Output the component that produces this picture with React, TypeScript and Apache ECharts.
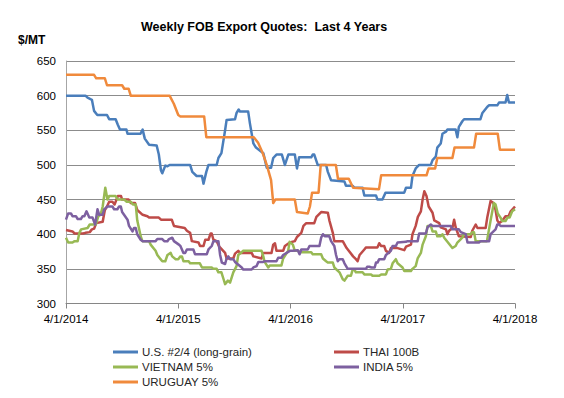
import React, { useEffect, useRef } from "react";
import * as echarts from "echarts";

const titleText = "Weekly FOB Export Quotes:  Last 4 Years";
const unitLabel = "$/MT";
const xTickLabels = ["4/1/2014", "4/1/2015", "4/1/2016", "4/1/2017", "4/1/2018"];
const seriesNames = ["U.S. #2/4 (long-grain)", "THAI 100B", "VIETNAM 5%", "INDIA 5%", "URUGUAY 5%"];
const seriesColors = ["#4A7EBB", "#BE4B48", "#98B954", "#7D60A0", "#F08A3C"];

// [week since 4/1/2014, $/MT]
const usQuotes: [number, number][] = [
  [0, 600], [9, 600], [10, 597], [12, 594], [13, 578], [14.5, 572], [19, 572], [20, 566], [23, 566], [24, 558],
  [25, 551], [28, 551], [28.5, 545], [34.5, 545], [35.5, 551], [36.5, 538], [38.5, 529], [42, 528], [43, 515],
  [44, 492], [44.6, 488], [46, 499], [47, 498], [48, 500], [57.5, 500], [58.5, 490], [60.5, 484], [63, 484],
  [63.7, 473], [65, 490], [66, 500], [69.8, 500], [70.6, 510], [72, 517], [73.7, 550], [74.4, 565], [78.3, 566],
  [79, 575], [80, 580], [80.6, 577], [84.4, 577], [85.2, 560], [86.8, 531], [88, 525], [91.4, 517], [93, 496],
  [95, 496], [96, 510], [97.5, 515], [100, 515], [101.4, 500], [103, 515], [106, 515], [107, 495], [108, 511],
  [113.6, 511], [114.3, 515], [115, 515], [116.6, 500], [120.5, 500], [121.3, 490], [122.8, 478], [129, 476],
  [129.7, 470], [132.8, 470], [133.6, 467], [137.4, 467], [138.2, 456], [143.6, 456], [144.3, 450], [146.6, 450],
  [148, 460], [156.7, 460], [157.5, 467], [159.8, 467], [160.5, 484], [162, 495], [163.6, 500], [169, 500],
  [169.8, 507], [171.3, 512], [172, 525], [173.6, 531], [174.4, 545], [176, 548], [176.7, 551], [180.5, 551],
  [181.3, 540], [182, 555], [183.6, 563], [184.4, 566], [192, 566], [192.9, 575], [195.2, 584], [196, 586],
  [199.8, 586], [200.6, 590], [203.6, 590], [204.4, 601], [205.2, 590], [208, 590],
];

const thaiQuotes: [number, number][] = [
  [0, 406], [3, 404], [4, 401], [8, 401], [9, 402], [11, 403], [12, 407], [13, 408], [14, 416], [17, 418],
  [18, 435], [19, 440], [20, 447], [21.5, 447], [22.5, 443], [24, 455], [25.5, 455], [26, 450], [29, 450],
  [30, 445], [32, 445], [33, 435], [35.5, 428], [37.7, 426], [38.5, 424], [43, 424], [44, 421], [49, 421],
  [50, 412], [55, 409], [56, 405], [57.5, 402], [58.3, 390], [61.4, 388], [62.1, 383], [63.7, 383], [64.5, 392],
  [66, 392], [67, 401], [67.5, 401], [68.3, 392], [69.8, 390], [71, 382], [73.7, 373], [74.4, 365], [77.5, 365],
  [78.3, 372], [79.8, 376], [80.6, 373], [86, 373], [86.8, 368], [90.6, 365], [91.4, 373], [95.2, 373], [96, 385],
  [96.8, 387], [97.5, 376], [100.6, 376], [101.4, 383], [103.7, 388], [106, 390], [107, 396], [109, 402],
  [110, 412], [111.3, 416], [115, 416], [116, 425], [118.2, 432], [121.3, 431], [122, 420], [123.6, 402],
  [124.3, 390], [128.2, 390], [130, 380], [133, 368], [134.3, 364], [135.1, 361], [136, 370], [138.2, 378],
  [139, 381], [144.3, 381], [145.1, 387], [146, 383], [147.4, 383], [148.2, 376], [149.7, 373], [150.5, 380],
  [153.6, 380], [156.7, 377], [157.5, 382], [159.8, 385], [160.5, 400], [162, 412], [163, 425], [164.4, 433],
  [165.2, 450], [166, 462], [167, 455], [168, 440], [169.8, 431], [170.6, 420], [172.9, 416], [173.6, 410],
  [176, 407], [176.7, 400], [177.5, 405], [179, 409], [179.8, 421], [180.5, 410], [182, 397], [187.5, 396],
  [188.2, 405], [189.8, 414], [190.6, 409], [194.4, 409], [195.2, 425], [196.7, 448], [198, 445], [199, 435],
  [199.8, 420], [200.6, 416], [202, 419], [203.6, 426], [205, 426], [206, 433], [208, 440],
];

const vietnamQuotes: [number, number][] = [
  [0, 395], [1, 388], [3, 388], [4, 390], [5.4, 390], [6.2, 402], [7, 407], [10, 409], [11, 414], [13.8, 414],
  [15, 426], [16, 428], [17, 440], [18.2, 467], [19.2, 450], [20, 455], [23, 455], [24, 450], [27, 450], [28, 447],
  [30, 447], [31, 443], [32.3, 443], [33, 420], [34.6, 397], [35.4, 390], [38.5, 390], [39.2, 385], [41.5, 376],
  [42.3, 370], [43.8, 364], [44.6, 361], [46, 361], [47, 370], [48.5, 373], [49.2, 368], [50.8, 364], [52, 364],
  [53, 368], [53.7, 368], [54.4, 361], [56.8, 361], [57.5, 358], [62, 358], [63, 352], [67.5, 352], [68.3, 350],
  [69.8, 350], [70.6, 345], [72, 345], [73, 335], [73.7, 328], [75, 333], [76, 330], [77.5, 345], [79, 354],
  [79.8, 370], [81.4, 374], [82, 376], [90.6, 376], [91.4, 368], [92, 360], [93.7, 352], [94.4, 355], [99.8, 355],
  [100.6, 365], [102.9, 376], [103.6, 389], [105.1, 385], [106, 376], [107.4, 376], [108.2, 374], [113.6, 374],
  [114.3, 371], [118.2, 371], [119, 365], [120.5, 361], [121.3, 359], [123.6, 359], [124.3, 352], [126.7, 345],
  [128.2, 335], [129, 333], [130.5, 340], [132, 340], [132.8, 349], [133.6, 349], [134.3, 345], [137.4, 345],
  [138.2, 342], [141.3, 342], [142, 340], [145.1, 340], [146, 342], [148.2, 342], [149, 349], [150.5, 350],
  [151.3, 358], [152.8, 364], [153.6, 358], [155.9, 352], [156.7, 347], [159.8, 347], [160.5, 350], [162, 354],
  [162.9, 365], [164.4, 373], [165.2, 385], [166.7, 397], [167.5, 412], [169, 412], [169.8, 404], [171.3, 404],
  [172, 397], [173.6, 397], [174.4, 400], [175.2, 395], [179, 380], [180.5, 383], [181.3, 388], [183.6, 395],
  [184.4, 400], [187.5, 400], [188.2, 403], [189, 403], [189.8, 390], [195, 390], [196.7, 420], [198.2, 445],
  [199, 443], [200, 430], [201.3, 424], [202.1, 419], [203.6, 419], [204.5, 424], [205.5, 424], [206.7, 433],
  [208, 436],
];

const indiaQuotes: [number, number][] = [
  [0, 421], [1, 430], [2.3, 430], [3, 426], [4.6, 426], [5.4, 422], [6.9, 422], [7.7, 426], [8.5, 426],
  [9.5, 433], [10.8, 424], [12.3, 424], [13.5, 414], [14.6, 436], [15.4, 428], [16.9, 428], [17.7, 436],
  [18.5, 438], [19.2, 440], [21.5, 440], [22.3, 436], [23.8, 436], [24.6, 440], [25.4, 440], [26, 432],
  [28.5, 421], [29.2, 412], [30.8, 404], [31.5, 409], [32.3, 409], [33, 400], [34.6, 392], [35.4, 390],
  [41.5, 390], [42.3, 393], [44.6, 393], [45.5, 390], [47, 390], [47.7, 393], [49.2, 395], [50, 390],
  [52.3, 385], [53, 383], [54.4, 373], [55.2, 373], [56, 378], [59, 378], [59.8, 371], [65.2, 371], [66, 378],
  [67.5, 383], [68.3, 390], [70.6, 390], [71.4, 370], [72.2, 359], [73.7, 357], [74.4, 365], [75.2, 368],
  [76, 364], [77.5, 364], [78.3, 360], [81.4, 352], [82.1, 349], [86, 349], [86.8, 352], [88.3, 354],
  [89.1, 360], [91.4, 360], [92.1, 361], [97.5, 361], [98.3, 366], [99.8, 366], [100.6, 370], [103.7, 376],
  [105.1, 376], [107.4, 377], [108.2, 371], [109, 378], [112, 378], [112.8, 383], [117.4, 383], [118.2, 395],
  [119, 400], [120, 397], [122, 397], [122.8, 390], [124.3, 383], [125.1, 370], [125.9, 361], [126.6, 364],
  [128.2, 364], [129, 358], [130.5, 350], [139, 350], [139.5, 353], [140.5, 353], [141.5, 352], [143, 352],
  [143.6, 359], [144.3, 359], [145.1, 364], [147.4, 364], [148.2, 370], [150.5, 376], [151.3, 383],
  [152.8, 383], [153.6, 388], [157.5, 389], [158.2, 390], [162.9, 390], [163.6, 401], [166.7, 401],
  [167.5, 410], [169, 414], [169.8, 412], [178.2, 412], [179, 407], [182, 407], [182.9, 403], [185.2, 400],
  [186, 388], [191.3, 388], [192.1, 390], [196, 390], [196.7, 400], [199, 407], [199.8, 414], [200.6, 414],
  [201.3, 412], [208, 412],
];

const uruguayQuotes: [number, number][] = [
  [0, 630], [13, 630], [14, 625], [18, 625], [19, 615], [26, 615], [27, 610], [29, 610], [30, 600], [48, 600],
  [50, 588], [52, 572], [53, 570], [64, 570], [65, 540], [87, 540], [89, 532], [91, 518], [93, 500], [95, 478],
  [96, 445], [97, 450], [106, 450], [107, 432], [112, 430], [113, 440], [114, 460], [117, 460], [118, 500],
  [125, 500], [126, 480], [131, 480], [133, 467], [145, 465], [146, 485], [167, 485], [168, 495], [171, 495],
  [172, 510], [179, 510], [180, 525], [189, 525], [190, 545], [200, 545], [201, 522], [208, 522],
];

const allSeries = [usQuotes, thaiQuotes, vietnamQuotes, indiaQuotes, uruguayQuotes];

const FONT = "'Liberation Sans', Arial, sans-serif";

export default function App() {
  const ref = useRef<HTMLDivElement>(null);
  useEffect(() => {
    document.body.style.margin = "0";
    if (!ref.current) return;
    const chart = echarts.init(ref.current, null, { renderer: "svg" });
    const legendBase = {
      orient: "vertical" as const,
      top: 341,
      itemWidth: 25,
      itemHeight: 3,
      itemGap: 3,
      icon: "rect",
      textStyle: { fontFamily: FONT, fontSize: 11.5, color: "#262626", padding: [0, 0, 0, -1] },
    };
    chart.setOption({
      animation: false,
      backgroundColor: "#ffffff",
      title: {
        text: titleText,
        left: 136,
        top: 15,
        textStyle: { fontFamily: FONT, fontSize: 12.5, fontWeight: "bold", color: "#000" },
      },
      graphic: [
        {
          type: "text",
          left: 18,
          top: 34,
          style: { text: unitLabel, fontFamily: FONT, fontSize: 12, fontWeight: "bold", fill: "#000" },
        },
      ],
      legend: [
        { ...legendBase, left: 108, data: [seriesNames[0], seriesNames[2], seriesNames[4]] },
        { ...legendBase, left: 329, data: [seriesNames[1], seriesNames[3]] },
      ],
      grid: { left: 66, right: 49, top: 61, bottom: 94.5 },
      xAxis: {
        type: "value",
        min: 0,
        max: 208,
        interval: 52,
        axisLine: { show: true, lineStyle: { color: "#868686", width: 1 } },
        axisTick: { show: true, length: 5, lineStyle: { color: "#868686" } },
        splitLine: { show: false },
        axisLabel: {
          margin: 9,
          fontFamily: FONT,
          fontSize: 11.5,
          color: "#000",
          formatter: (v: number) => xTickLabels[Math.round(v / 52)] ?? "",
        },
      },
      yAxis: {
        type: "value",
        min: 300,
        max: 650,
        interval: 50,
        axisLine: { show: true, lineStyle: { color: "#a6a6a6", width: 1 } },
        axisTick: { show: false },
        splitLine: { show: true, lineStyle: { color: "#8c8c8c", width: 1 } },
        axisLabel: { margin: 10, fontFamily: FONT, fontSize: 11.5, color: "#000" },
      },
      series: allSeries.map((data, i) => ({
        name: seriesNames[i],
        type: "line",
        data,
        showSymbol: false,
        symbol: "none",
        color: seriesColors[i],
        lineStyle: { width: 2.5, color: seriesColors[i], join: "round" },
      })),
    });
    return () => chart.dispose();
  }, []);
  return (
    <div
      style={{
        width: 564,
        height: 398,
        boxSizing: "border-box",
        border: "1px solid #d9d9d9",
        position: "relative",
      }}
    >
      <div ref={ref} style={{ position: "absolute", left: -1, top: -1, width: 564, height: 398 }} />
    </div>
  );
}
